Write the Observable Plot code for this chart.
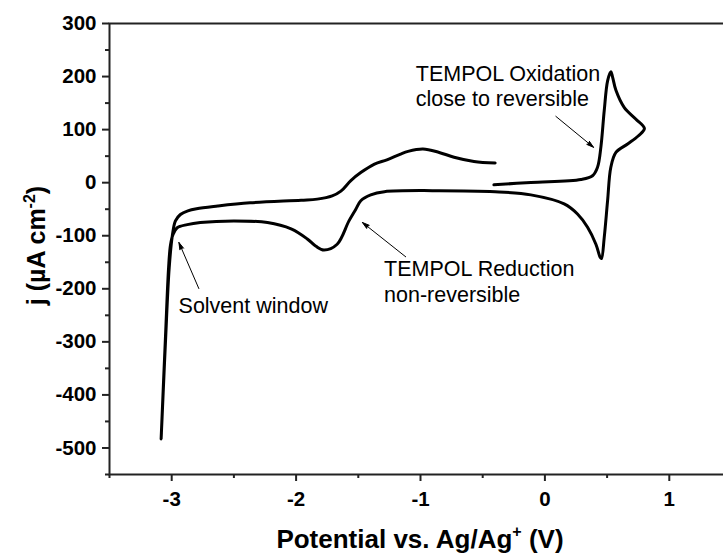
<!DOCTYPE html>
<html>
<head>
<meta charset="utf-8">
<script src="https://cdn.jsdelivr.net/npm/d3@7"></script>
<script src="https://cdn.jsdelivr.net/npm/@observablehq/plot@0.6"></script>
<style>
  html, body { margin: 0; padding: 0; background: #fff; overflow: hidden; }
</style>
</head>
<body>
<div id="chart"></div>
<script>
// Cyclic voltammogram, in scan order (potential in V vs Ag/Ag+, current density in µA cm^-2)
const potential = [
  -0.40, -0.57, -0.73, -0.85, -0.98, -1.10, -1.16, -1.27, -1.37, -1.48, -1.56, -1.64, -1.71, -1.83, -1.96,
  -2.37, -2.63, -2.80, -2.87, -2.93, -2.97, -2.995, -3.02, -3.05, -3.085,
  -3.05, -3.025, -3.01, -2.99, -2.956, -2.875, -2.77, -2.50, -2.23, -2.04, -1.91, -1.84, -1.776, -1.67,
  -1.575, -1.52, -1.48, -1.40, -1.29, -0.89, -0.40, -0.113, 0.155, 0.262, 0.343, 0.41, 0.445, 0.455,
  0.477, 0.504, 0.53, 0.571, 0.665, 0.75, 0.80, 0.73, 0.637, 0.571, 0.544, 0.53, 0.504, 0.477, 0.45,
  0.423, 0.383, 0.29, -0.113, -0.41
];
const current = [
  37, 40, 48, 57, 63.5, 59, 54, 43, 35, 19, 4, -16, -25, -31, -33,
  -38, -44, -49, -53, -60, -72, -100, -160, -300, -483,
  -290, -160, -118, -98, -85, -79, -75, -72, -75, -87, -106, -120, -127, -116,
  -72, -50, -34, -23, -17, -15, -17, -23, -40, -59, -84, -116, -141, -143,
  -103, -34, 29, 57, 73, 88, 102, 120, 142, 174, 199, 209, 192, 136, 67,
  29, 13, 6, 0.5, -4
];

// Axis ticks
const xMajor = [-3, -2, -1, 0, 1];
const xMinor = [-3.5, -2.5, -1.5, -0.5, 0.5, 1.5];
const yMajor = [300, 200, 100, 0, -100, -200, -300, -400, -500];
const yMinor = [250, 150, 50, -50, -150, -250, -350, -450, -550];

// Annotations (text anchored at top-left of first line)
const noteText = ["Solvent window", "TEMPOL Reduction\nnon-reversible", "TEMPOL Oxidation\nclose to reversible"];
const noteX = [-2.945, -1.293, -1.038];
const noteY = [-211, -142, 227];

// Annotation arrows (tail -> tip)
const arrowX1 = [-2.782, -1.119, 0.088];
const arrowY1 = [-199.5, -139.7, 125];
const arrowX2 = [-2.942, -1.467, 0.391];
const arrowY2 = [-112.7, -75, 66.6];

const cv = potential.map((v, i) => ({v, j: current[i]}));
const notes = noteText.map((t, i) => ({t, x: noteX[i], y: noteY[i]}));
const arrows = arrowX1.map((x1, i) => ({x1, y1: arrowY1[i], x2: arrowX2[i], y2: arrowY2[i]}));

const fmt = d => String(d);

const chart = Plot.plot({
  width: 723,
  height: 555,
  marginLeft: 109,
  marginRight: -8,
  marginTop: 23,
  marginBottom: 81,
  style: {fontFamily: "'Liberation Sans', Arial, sans-serif", color: "#000", background: "#fff", overflow: "hidden"},
  x: {domain: [-3.5, 1.5], label: null},
  y: {domain: [-550, 300], label: null},
  marks: [
    Plot.axisX({ticks: xMinor, tickSize: 4, text: null, strokeWidth: 2, stroke: "#222"}),
    Plot.axisX({ticks: xMajor, tickSize: 7, tickPadding: 10, tickFormat: fmt, fontSize: 20.5, fontWeight: "bold", strokeWidth: 2, stroke: "#222"}),
    Plot.axisY({ticks: yMinor, tickSize: 4, text: null, strokeWidth: 2, stroke: "#222"}),
    Plot.axisY({ticks: yMajor, tickSize: 7, tickPadding: 6, tickFormat: fmt, fontSize: 20.5, fontWeight: "bold", strokeWidth: 2, stroke: "#222"}),
    Plot.frame({stroke: "#222", strokeWidth: 2}),
    Plot.line(cv, {x: "v", y: "j", curve: "catmull-rom", stroke: "#000", strokeWidth: 3, strokeLinejoin: "round", strokeLinecap: "round"}),
    Plot.arrow(arrows, {x1: "x1", y1: "y1", x2: "x2", y2: "y2", stroke: "#000", fill: "#000", strokeWidth: 1, headLength: 11, headAngle: 32}),
    Plot.text(notes, {x: "x", y: "y", text: "t", textAnchor: "start", lineAnchor: "top", lineHeight: 1.2, fontSize: 21.5, fill: "#000"})
  ]
});

document.getElementById("chart").appendChild(chart);

// Axis titles with superscripts
const svg = d3.select(chart);
const xr = chart.scale("x").range;
const yr = chart.scale("y").range;
const xt = svg.append("text")
  .attr("x", (xr[0] + xr[1]) / 2)
  .attr("y", yr[0] + 74)
  .attr("text-anchor", "middle")
  .attr("font-size", 26)
  .attr("font-weight", "bold")
  .attr("fill", "#000");
xt.append("tspan").text("Potential vs. Ag/Ag");
xt.append("tspan").attr("font-size", 16).attr("dy", -11).text("+");
xt.append("tspan").attr("dy", 11).text(" (V)");

const yt = svg.append("text")
  .attr("transform", `translate(45,${(yr[0] + yr[1]) / 2 - 3})rotate(-90)`)
  .attr("text-anchor", "middle")
  .attr("font-size", 25)
  .attr("font-weight", "bold")
  .attr("fill", "#000");
yt.append("tspan").text("j (µA cm");
yt.append("tspan").attr("font-size", 16).attr("dy", -10).text("-2");
yt.append("tspan").attr("dy", 10).text(")");
</script>
</body>
</html>
